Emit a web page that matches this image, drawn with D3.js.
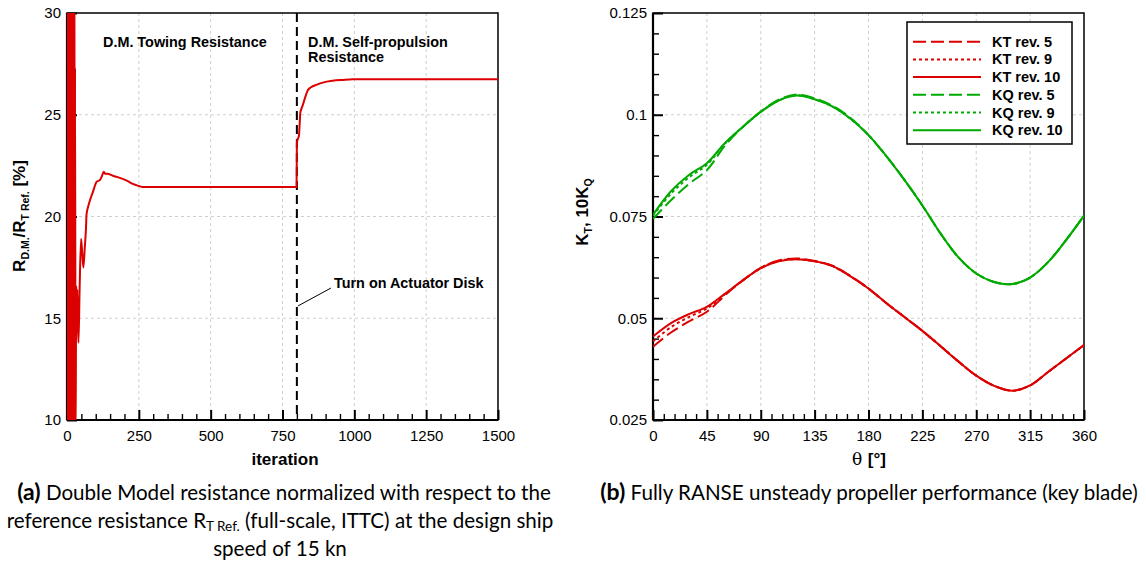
<!DOCTYPE html>
<html>
<head>
<meta charset="utf-8">
<script src="https://cdn.jsdelivr.net/npm/d3@7"></script>
<style>
  html, body { margin: 0; padding: 0; background: #fff; }
  svg { display: block; }
  .tick text { font-family: "Liberation Sans", Arial, sans-serif; font-size: 15px; fill: #000; }
  .lbl { font-family: "Liberation Sans", Arial, sans-serif; font-weight: bold; fill: #000; }
  .cap { font-family: "Lato", "Open Sans", sans-serif; fill: #000; }
</style>
</head>
<body>
<svg id="fig" width="1146" height="566"></svg>
<script>
// ---- Panel (a): Double Model resistance history ----
const iterations = [0, 1, 2, 3, 4, 5, 6, 7, 8, 9, 10, 11, 12, 13, 14, 15, 16, 17, 18, 19, 20, 21, 22, 23, 24, 25, 26, 27,
  28, 30, 32, 34, 36, 38, 40, 44, 49, 53, 57, 62, 66, 68, 74, 80, 90, 103, 115, 122, 128, 133, 140, 160, 184, 210,
  229, 250, 264, 300, 400, 500, 600, 700, 799, 800, 803, 807, 810, 812, 816, 820, 830, 838,
  849, 870, 890, 925, 960, 994, 1050, 1200, 1350, 1500];
const resistanceRatio = [40, 2, 40, 2, 40, 2, 40, 2, 40, 2, 40, 2, 40, 2, 40, 2, 40, 2, 40, 2, 40, 2, 40, 2, 38, 4, 36, 6,
  27.3, 9, 16.6, 14.3, 16.4, 14.6, 13.8, 16.5, 18.9, 18.2, 17.5, 18.5, 19.4, 20.1, 20.5, 20.8, 21.2, 21.7, 21.8, 22.0, 22.2, 22.1, 22.1, 22.0, 21.9, 21.75,
  21.6, 21.5, 21.45, 21.45, 21.45, 21.45, 21.45, 21.45, 21.45, 23.6, 23.8, 23.95, 24.6, 25.1, 25.3, 25.45, 25.9, 26.2,
  26.35, 26.48, 26.58, 26.67, 26.71, 26.74, 26.75, 26.75, 26.75, 26.75];
const iterTicks = [0, 250, 500, 750, 1000, 1250, 1500];
const ratioTicks = [10, 15, 20, 25, 30];
const actuatorOnIteration = 800;

// ---- Panel (b): key blade thrust / torque over one revolution ----
const thetaDeg = [0, 15, 30, 45, 60, 75, 90, 105, 120, 135, 150, 165, 180, 195, 210, 225, 240, 255, 270, 285, 300, 315, 330, 345, 360];
const ktRev5  = [0.0430, 0.0465, 0.0492, 0.0516, 0.0556, 0.0593, 0.0624, 0.0642, 0.0647, 0.0641, 0.0629, 0.0604, 0.0573, 0.0537, 0.0503, 0.0469, 0.0432, 0.0394, 0.0359, 0.0334, 0.0322, 0.0335, 0.0368, 0.0401, 0.0434];
const ktRev9  = [0.0443, 0.0478, 0.0503, 0.0524, 0.0559, 0.0593, 0.0623, 0.0641, 0.0645, 0.0640, 0.0628, 0.0603, 0.0573, 0.0537, 0.0503, 0.0469, 0.0432, 0.0394, 0.0359, 0.0334, 0.0322, 0.0335, 0.0368, 0.0401, 0.0434];
const ktRev10 = [0.0455, 0.0488, 0.0510, 0.0528, 0.0560, 0.0593, 0.0623, 0.0640, 0.0645, 0.0640, 0.0628, 0.0603, 0.0573, 0.0537, 0.0503, 0.0469, 0.0432, 0.0394, 0.0359, 0.0334, 0.0322, 0.0335, 0.0368, 0.0401, 0.0434];
const kqRev5  = [0.0744, 0.0790, 0.0830, 0.0864, 0.0924, 0.0970, 0.1008, 0.1037, 0.1050, 0.1040, 0.1022, 0.0992, 0.0950, 0.0898, 0.0840, 0.0777, 0.0709, 0.0650, 0.0610, 0.0589, 0.0584, 0.0600, 0.0638, 0.0692, 0.0752];
const kqRev9  = [0.0752, 0.0806, 0.0846, 0.0877, 0.0929, 0.0970, 0.1007, 0.1035, 0.1048, 0.1038, 0.1020, 0.0990, 0.0950, 0.0898, 0.0840, 0.0777, 0.0709, 0.0650, 0.0610, 0.0589, 0.0584, 0.0600, 0.0638, 0.0692, 0.0752];
const kqRev10 = [0.0754, 0.0812, 0.0852, 0.0881, 0.0930, 0.0970, 0.1007, 0.1035, 0.1047, 0.1038, 0.1020, 0.0990, 0.0950, 0.0898, 0.0840, 0.0777, 0.0709, 0.0650, 0.0610, 0.0589, 0.0584, 0.0600, 0.0638, 0.0692, 0.0752];
const thetaTicks = [0, 45, 90, 135, 180, 225, 270, 315, 360];
const kTicks = [0.025, 0.05, 0.075, 0.1, 0.125];
const kTickLabels = ["0.025", "0.05", "0.075", "0.1", "0.125"];
const legendLabels = ["KT rev. 5", "KT rev. 9", "KT rev. 10", "KQ rev. 5", "KQ rev. 9", "KQ rev. 10"];

const RED = "#dc0000", GREEN = "#00aa00";
const DASH = "13,5", DOT = "3,3";

const svg = d3.select("#fig");

// Shared frame drawing: grid, minor/major inward ticks, box
function drawFrame(g, x, y, xMajor, yMajor, xMinorStep, yMinorStep, xFmt, yFmt, id) {
  const [x0, x1] = x.range(), [y0, y1] = y.range();
  const xd = x.domain(), yd = y.domain();
  const grid = g.append("g").attr("stroke", "#cfcfcf").attr("stroke-width", 1).attr("stroke-dasharray", "3,3");
  xMajor.slice(1, -1).forEach(v => grid.append("line").attr("x1", x(v)).attr("x2", x(v)).attr("y1", y1).attr("y2", y0));
  yMajor.slice(1, -1).forEach(v => grid.append("line").attr("y1", y(v)).attr("y2", y(v)).attr("x1", x0).attr("x2", x1));

  const xMinor = d3.range(xd[0], xd[1] + 1e-9, xMinorStep).filter(v => !xMajor.some(m => Math.abs(m - v) < 1e-9));
  const yMinor = d3.range(yd[0], yd[1] + 1e-9, yMinorStep).filter(v => !yMajor.some(m => Math.abs(m - v) < 1e-9));

  g.append("g").attr("transform", `translate(0,${y0})`)
    .call(d3.axisBottom(x).tickValues(xMinor).tickSize(-6).tickFormat(""))
    .call(a => { a.select(".domain").remove(); a.selectAll("line").attr("stroke-width", 1.4); });
  g.append("g").attr("transform", `translate(${x0},0)`)
    .call(d3.axisLeft(y).tickValues(yMinor).tickSize(-6).tickFormat(""))
    .call(a => { a.select(".domain").remove(); a.selectAll("line").attr("stroke-width", 1.4); });

  g.append("g").attr("transform", `translate(0,${y0})`)
    .call(d3.axisBottom(x).tickValues(xMajor).tickSize(-10).tickPadding(10).tickFormat(xFmt))
    .call(a => { a.select(".domain").remove(); a.selectAll("line").attr("stroke-width", 2); });
  g.append("g").attr("transform", `translate(${x0},0)`)
    .call(d3.axisLeft(y).tickValues(yMajor).tickSize(-10).tickPadding(6).tickFormat(yFmt))
    .call(a => { a.select(".domain").remove(); a.selectAll("line").attr("stroke-width", 2); });

  g.append("rect").attr("x", x0).attr("y", y1).attr("width", x1 - x0).attr("height", y0 - y1)
    .attr("fill", "none").attr("stroke", "#000").attr("stroke-width", 1.5);
  g.append("line").attr("x1", x0).attr("x2", x1).attr("y1", y0).attr("y2", y0).attr("stroke", "#000").attr("stroke-width", 2.2);
  g.append("line").attr("x1", x0).attr("x2", x0).attr("y1", y1).attr("y2", y0).attr("stroke", "#000").attr("stroke-width", 2.2);

  svg.append("clipPath").attr("id", id).append("rect")
    .attr("x", x0).attr("y", y1).attr("width", x1 - x0).attr("height", y0 - y1);
}

// ================= Panel (a) =================
const xA = d3.scaleLinear().domain([0, 1500]).range([67, 498]);
const yA = d3.scaleLinear().domain([10, 30]).range([420, 13]);
const gA = svg.append("g");
drawFrame(gA, xA, yA, iterTicks, ratioTicks, 50, 1, d => String(d), d => String(d), "clipA");

const plotA = gA.append("g").attr("clip-path", "url(#clipA)");
plotA.append("line")
  .attr("x1", xA(actuatorOnIteration)).attr("x2", xA(actuatorOnIteration))
  .attr("y1", yA(30)).attr("y2", yA(10))
  .attr("stroke", "#000").attr("stroke-width", 2).attr("stroke-dasharray", "9,5");

const resLine = d3.line().x(d => xA(d[0])).y(d => yA(d[1])).curve(d3.curveMonotoneX);
plotA.append("path")
  .datum(d3.zip(iterations, resistanceRatio))
  .attr("d", resLine).attr("fill", "none").attr("stroke", RED).attr("stroke-width", 2)
  .attr("stroke-linejoin", "round");

gA.append("text").attr("class", "lbl").attr("x", 103).attr("y", 47).attr("font-size", 14.4).text("D.M. Towing Resistance");
gA.append("text").attr("class", "lbl").attr("x", 308).attr("y", 47).attr("font-size", 14.4).text("D.M. Self-propulsion");
gA.append("text").attr("class", "lbl").attr("x", 308).attr("y", 62).attr("font-size", 14.4).text("Resistance");
gA.append("text").attr("class", "lbl").attr("x", 334).attr("y", 288).attr("font-size", 14.4).text("Turn on Actuator Disk");
gA.append("line").attr("x1", 331).attr("y1", 288).attr("x2", xA(actuatorOnIteration) + 1).attr("y2", 306)
  .attr("stroke", "#000").attr("stroke-width", 1);

gA.append("text").attr("class", "lbl").attr("x", 285).attr("y", 465).attr("text-anchor", "middle")
  .attr("font-size", 17).text("iteration");
const yTitleA = gA.append("text").attr("class", "lbl").attr("font-size", 17)
  .attr("text-anchor", "middle").attr("transform", "translate(25,216) rotate(-90)");
yTitleA.append("tspan").text("R");
yTitleA.append("tspan").attr("font-size", 10.5).attr("dy", 4).text("D.M.");
yTitleA.append("tspan").attr("dy", -4).text("/R");
yTitleA.append("tspan").attr("font-size", 10.5).attr("dy", 4).text("T Ref.");
yTitleA.append("tspan").attr("dy", -4).text(" [%]");

// ================= Panel (b) =================
const xB = d3.scaleLinear().domain([0, 360]).range([653, 1084]);
const yB = d3.scaleLinear().domain([0.025, 0.125]).range([420, 13]);
const gB = svg.append("g");
drawFrame(gB, xB, yB, thetaTicks, kTicks, 9, 0.005, d => String(d), (d, i) => kTickLabels[i], "clipB");

const plotB = gB.append("g").attr("clip-path", "url(#clipB)");
const kLine = d3.line().x(d => xB(d[0])).y(d => yB(d[1])).curve(d3.curveCatmullRom.alpha(0.5));
const seriesB = [
  { vals: ktRev10, color: RED, dash: null },
  { vals: kqRev10, color: GREEN, dash: null },
  { vals: ktRev9, color: RED, dash: DOT },
  { vals: kqRev9, color: GREEN, dash: DOT },
  { vals: ktRev5, color: RED, dash: DASH },
  { vals: kqRev5, color: GREEN, dash: DASH }
];
seriesB.forEach(s => {
  plotB.append("path").datum(d3.zip(thetaDeg, s.vals))
    .attr("d", kLine).attr("fill", "none").attr("stroke", s.color).attr("stroke-width", 2)
    .attr("stroke-dasharray", s.dash);
});

const legendStyle = [
  { color: RED, dash: DASH }, { color: RED, dash: DOT }, { color: RED, dash: null },
  { color: GREEN, dash: DASH }, { color: GREEN, dash: DOT }, { color: GREEN, dash: null }
];
const lg = gB.append("g");
lg.append("rect").attr("x", 907).attr("y", 22).attr("width", 165).attr("height", 122)
  .attr("fill", "#fff").attr("stroke", "#000").attr("stroke-width", 1.5);
legendLabels.forEach((t, i) => {
  const yy = 41.7 + i * 17.7;
  lg.append("line").attr("x1", 913).attr("x2", 981).attr("y1", yy).attr("y2", yy)
    .attr("stroke", legendStyle[i].color).attr("stroke-width", 2).attr("stroke-dasharray", legendStyle[i].dash);
  lg.append("text").attr("class", "lbl").attr("x", 992).attr("y", yy + 5).attr("font-size", 14.5).text(t);
});

const xTitleB = gB.append("text").attr("x", 869).attr("y", 465).attr("text-anchor", "middle").attr("font-size", 17);
xTitleB.append("tspan").attr("font-family", "'DejaVu Serif', 'Liberation Serif', serif").text("θ ");
xTitleB.append("tspan").attr("class", "lbl").text("[°]");
const yTitleB = gB.append("text").attr("class", "lbl").attr("font-size", 17)
  .attr("text-anchor", "middle").attr("transform", "translate(588,212) rotate(-90)");
yTitleB.append("tspan").text("K");
yTitleB.append("tspan").attr("font-size", 10.5).attr("dy", 4).text("T");
yTitleB.append("tspan").attr("dy", -4).text(", 10K");
yTitleB.append("tspan").attr("font-size", 10.5).attr("dy", 4).text("Q");

// ================= Captions =================
const CAP = 20.6, CAPB = 23;
const capA1 = svg.append("text").attr("class", "cap").attr("x", 284).attr("y", 500).attr("text-anchor", "middle").attr("font-size", CAP);
capA1.append("tspan").attr("font-weight", "bold").attr("font-size", CAPB).text("(a)");
capA1.append("tspan").text(" Double Model resistance normalized with respect to the");
const capA2 = svg.append("text").attr("class", "cap").attr("x", 280).attr("y", 528).attr("text-anchor", "middle").attr("font-size", CAP);
capA2.append("tspan").text("reference resistance R");
capA2.append("tspan").attr("font-size", 13.5).attr("dy", 3).text("T Ref.");
capA2.append("tspan").attr("dy", -3).text(" (full-scale, ITTC) at the design ship");
svg.append("text").attr("class", "cap").attr("x", 280).attr("y", 556).attr("text-anchor", "middle").attr("font-size", CAP)
  .text("speed of 15 kn");

const capB = svg.append("text").attr("class", "cap").attr("x", 869).attr("y", 500).attr("text-anchor", "middle").attr("font-size", CAP);
capB.append("tspan").attr("font-weight", "bold").attr("font-size", CAPB).text("(b)");
capB.append("tspan").text(" Fully RANSE unsteady propeller performance (key blade)");
</script>
</body>
</html>
